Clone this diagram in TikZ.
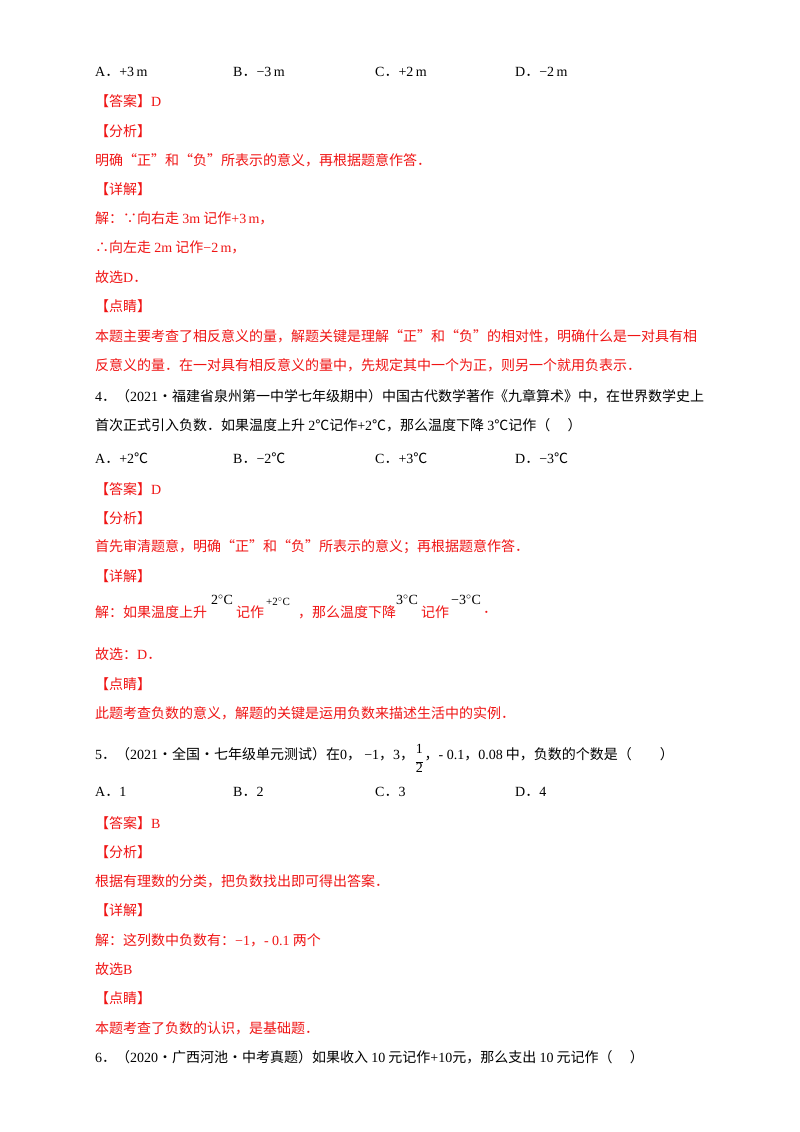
\documentclass[tikz,border=0pt]{standalone}
\usepackage{fontspec}
\setmainfont{Noto Sans CJK SC}
\newfontfamily\lat{Liberation Serif}
\definecolor{ans}{RGB}{240,20,20}
\begin{document}
\begin{tikzpicture}[x=1pt,y=-1pt,
  t/.style={anchor=west,inner sep=0pt,font=\fontsize{14}{15}\selectfont},
  r/.style={t,text=ans}]
\useasboundingbox (0,0) rectangle (800,1132);
\fill[white] (0,0) rectangle (800,1132);
\node[t] (a1) at (95,72) {{\lat A}．{\lat +3\,m}};
\node[t] (b1) at (233,72) {{\lat B}．{\lat −3\,m}};
\node[t] (c1) at (375,72) {{\lat C}．{\lat +2\,m}};
\node[t] (d1) at (515,72) {{\lat D}．{\lat −2\,m}};
\node[r] (l1) at (95,101) {【答案】{\lat D}};
\node[r] (l2) at (95,131) {【分析】};
\node[r] (l3) at (95,160) {明确“正”和“负”所表示的意义，再根据题意作答．};
\node[r] (l4) at (95,189) {【详解】};
\node[r] (l5) at (95,218) {解：∵向右走 {\lat 3m} 记作{\lat +3\,m}，};
\node[r] (l6) at (95,247) {∴向左走 {\lat 2m} 记作{\lat −2\,m}，};
\node[r] (l7) at (95,277) {故选{\lat D}．};
\node[r] (l8) at (95,306) {【点睛】};
\node[r] (l9) at (95,336) {本题主要考查了相反意义的量，解题关键是理解“正”和“负”的相对性，明确什么是一对具有相};
\node[r] (l10) at (95,365) {反意义的量．在一对具有相反意义的量中，先规定其中一个为正，则另一个就用负表示．};
\node[t] (q4) at (95,396) {{\lat 4}．（{\lat 2021}·福建省泉州第一中学七年级期中）中国古代数学著作《九章算术》中，在世界数学史上};
\node[t] (q4b) at (95,425) {首次正式引入负数．如果温度上升 {\lat 2}℃记作{\lat +2}℃，那么温度下降 {\lat 3}℃记作（\quad\ ）};
\node[t] (a2) at (95,458) {{\lat A}．{\lat +2}℃};
\node[t] (b2) at (233,458) {{\lat B}．{\lat −2}℃};
\node[t] (c2) at (375,458) {{\lat C}．{\lat +3}℃};
\node[t] (d2) at (515,458) {{\lat D}．{\lat −3}℃};
\node[r] (m1) at (95,489) {【答案】{\lat D}};
\node[r] (m2) at (95,518) {【分析】};
\node[r] (m3) at (95,547) {首先审清题意，明确“正”和“负”所表示的意义；再根据题意作答．};
\node[r] (m4) at (95,576) {【详解】};
\node[r] (m5) at (95,612) {解：如果温度上升};
\node[t] (s1) at (211,600) {{\lat 2$^\circ$C}};
\node[r] (m5b) at (236,612) {记作};
\node[t] (s2) at (266,602) {{\lat\fontsize{11}{12}\selectfont +2$^\circ$C}};
\node[r] (m5c) at (298,612) {，那么温度下降};
\node[t] (s3) at (396,600) {{\lat 3$^\circ$C}};
\node[r] (m5d) at (421,612) {记作};
\node[t] (s4) at (451,600) {{\lat −3$^\circ$C}};
\node[r] (m5e) at (483,612) {．};
\node[r] (m6) at (95,654) {故选：{\lat D}．};
\node[r] (m7) at (95,684) {【点睛】};
\node[r] (m8) at (95,713) {此题考查负数的意义，解题的关键是运用负数来描述生活中的实例．};
\node[t] (q5) at (95,754) {{\lat 5}．（{\lat 2021}·全国·七年级单元测试）在{\lat 0}，\ {\lat −1}，{\lat 3}，};
\node[t,anchor=center] (fr) at ([xshift=5pt,yshift=-6pt]q5.east) {{\lat\begin{tabular}{@{}c@{}}1\\[-3pt]\rule[3pt]{7pt}{0.5pt}\\[-8pt]2\end{tabular}}};
\node[t] (q5b) at ([xshift=10pt]q5.east) {，{\lat - 0.1}，{\lat 0.08} 中，负数的个数是（\qquad ）};
\node[t] (a3) at (95,792) {{\lat A}．{\lat 1}};
\node[t] (b3) at (233,792) {{\lat B}．{\lat 2}};
\node[t] (c3) at (375,792) {{\lat C}．{\lat 3}};
\node[t] (d3) at (515,792) {{\lat D}．{\lat 4}};
\node[r] (n1) at (95,823) {【答案】{\lat B}};
\node[r] (n2) at (95,852) {【分析】};
\node[r] (n3) at (95,881) {根据有理数的分类，把负数找出即可得出答案．};
\node[r] (n4) at (95,910) {【详解】};
\node[r] (n5) at (95,940) {解：这列数中负数有：{\lat −1}，{\lat - 0.1} 两个};
\node[r] (n6) at (95,969) {故选{\lat B}};
\node[r] (n7) at (95,998) {【点睛】};
\node[r] (n8) at (95,1028) {本题考查了负数的认识，是基础题．};
\node[t] (q6) at (95,1057) {{\lat 6}．（{\lat 2020}·广西河池·中考真题）如果收入 {\lat 10} 元记作{\lat +10}元，那么支出 {\lat 10} 元记作（\quad\ ）};
\end{tikzpicture}
\end{document}
